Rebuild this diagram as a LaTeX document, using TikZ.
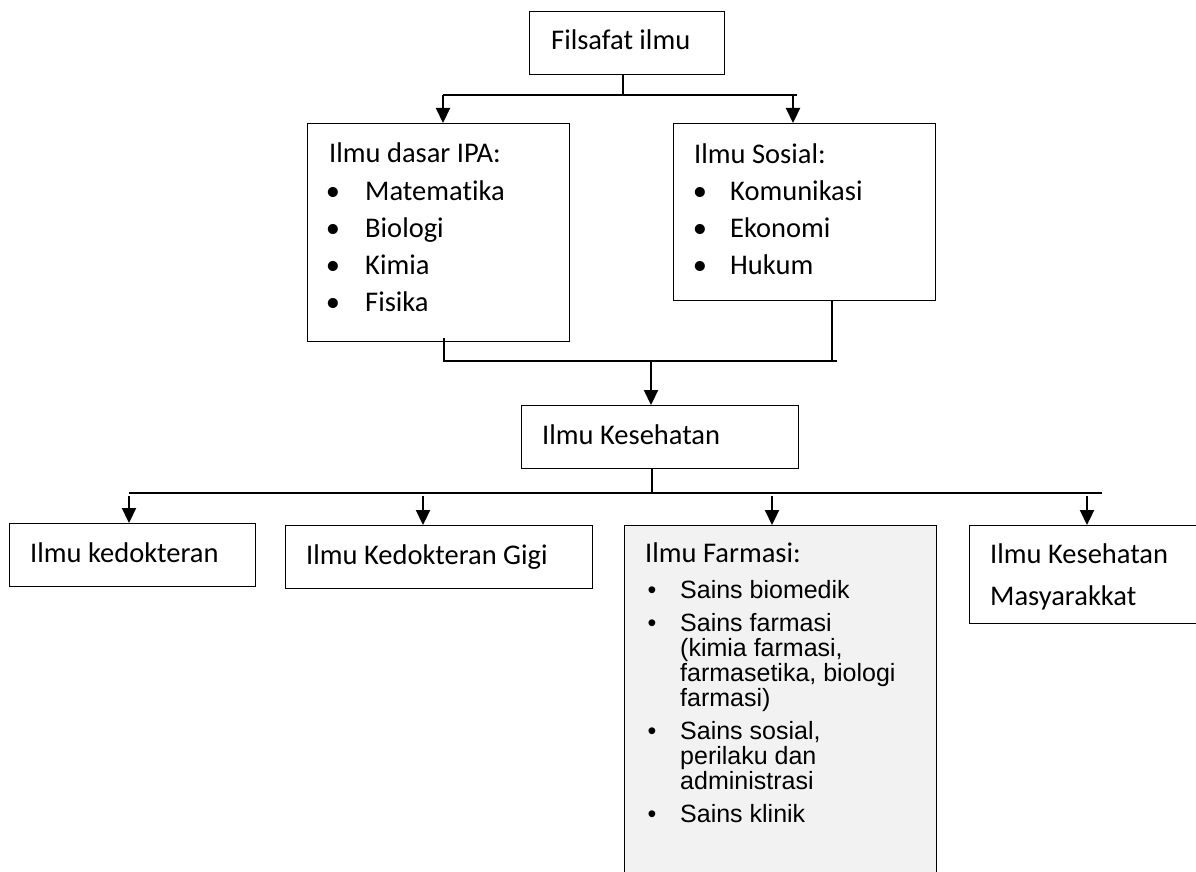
\documentclass[tikz,border=0pt]{standalone}
\usepackage{fontspec}
\setmainfont{Carlito}[Ligatures=NoCommon]
\newfontfamily\arialf{Liberation Sans}
\usetikzlibrary{arrows.meta}
\definecolor{farmfill}{HTML}{F2F2F2}
\begin{document}
\begin{tikzpicture}[x=1pt,y=-1pt,
  box/.style={draw=black, line width=1.3pt, inner sep=0pt, anchor=north west},
  conn/.style={line width=2.2pt},
  arr/.style={line width=2.2pt, -{Triangle[length=15pt,width=14pt]}},
  cal/.style={font=\fontsize{28.5}{34}\selectfont, inner sep=0pt, anchor=base west},
  calb/.style={font=\fontsize{28.5}{34}\selectfont, inner sep=0pt, anchor=base},
  ari/.style={font=\arialf\fontsize{25}{25}\selectfont, inner sep=0pt, anchor=base west},
  arib/.style={font=\arialf\fontsize{25}{25}\selectfont, inner sep=0pt, anchor=base}]
\useasboundingbox (0,0) rectangle (1196,872);

% boxes
\node[box, minimum width=195pt, minimum height=63pt] (fil) at (529,11) {};
\node[box, minimum width=262pt, minimum height=218pt] (ipa) at (307,123) {};
\node[box, minimum width=262pt, minimum height=177pt] (sos) at (673,123) {};
\node[box, minimum width=277pt, minimum height=63pt] (kes) at (521,405) {};
\node[box, minimum width=246pt, minimum height=63pt] (ked) at (9,523) {};
\node[box, minimum width=307pt, minimum height=63pt] (gigi) at (285,525) {};
\node[box, fill=farmfill, minimum width=312pt, minimum height=380pt] (far) at (624,525) {};
\node[box, minimum width=240pt, minimum height=98pt] (mas) at (969,525) {};

% texts
\node[cal] (filT) at (551,50) {Filsafat ilmu};

\node[cal] (ipaT) at (329,162) {Ilmu dasar IPA:};
\foreach \t/\y [count=\i] in {Matematika/200, Biologi/237, Kimia/274, Fisika/311} {
  \node[calb] (ipaB\i) at (333,\y) {\textbullet};
  \node[cal] (ipaI\i) at (365,\y) {\t};
}

\node[cal] (sosT) at (694,163) {Ilmu Sosial:};
\foreach \t/\y [count=\i] in {Komunikasi/200, Ekonomi/237, Hukum/274} {
  \node[calb] (sosB\i) at (700,\y) {\textbullet};
  \node[cal] (sosI\i) at (730,\y) {\t};
}

\node[cal] (kesT) at (542,444) {Ilmu Kesehatan};
\node[cal] (kedT) at (30,562) {Ilmu kedokteran};
\node[cal] (gigiT) at (306,564) {Ilmu Kedokteran Gigi};
\node[cal] (masT1) at (990,563) {Ilmu Kesehatan};
\node[cal] (masT2) at (990,605) {Masyarakkat};

\node[cal] (farT) at (645,562) {Ilmu Farmasi:};
\node[arib] (farB1) at (652,598) {\textbullet};
\node[ari] (farI1) at (680,598) {Sains biomedik};
\node[arib] (farB2) at (652,631) {\textbullet};
\node[ari] (farI2a) at (680,631) {Sains farmasi};
\node[ari] (farI2b) at (680,656) {(kimia farmasi,};
\node[ari] (farI2c) at (680,681) {farmasetika, biologi};
\node[ari] (farI2d) at (680,706) {farmasi)};
\node[arib] (farB3) at (652,739) {\textbullet};
\node[ari] (farI3a) at (680,739) {Sains sosial,};
\node[ari] (farI3b) at (680,764) {perilaku dan};
\node[ari] (farI3c) at (680,789) {administrasi};
\node[arib] (farB4) at (652,822) {\textbullet};
\node[ari] (farI4) at (680,822) {Sains klinik};

% connectors: level 1
\coordinate (j1) at (623,95);
\coordinate (h1l) at (443,95);
\coordinate (h1r) at (797,95);
\coordinate (a1r) at (793,95);
\draw[conn] (j1 |- fil.south) -- (j1);
\draw[conn] (h1l) -- (h1r);
\draw[arr] (h1l) -- (h1l |- ipa.north);
\draw[arr] (a1r) -- (a1r |- sos.north);

% connectors: level 2
\coordinate (h2l) at (444,361);
\coordinate (h2r) at (837,361);
\coordinate (s2) at (832,361);
\coordinate (a2) at (651,361);
\draw[conn] ([yshift=4pt]h2l |- ipa.south) -- (h2l) -- (h2r);
\draw[conn] (s2 |- sos.south) -- (s2);
\draw[arr] (a2) -- (a2 |- kes.north);

% connectors: level 3
\coordinate (j3) at (652,493);
\coordinate (h3l) at (129,493);
\coordinate (h3r) at (1102,493);
\draw[conn] (j3 |- kes.south) -- (j3);
\draw[conn] (h3l) -- (h3r);
\coordinate (a31) at (129,496);
\coordinate (a32) at (423,496);
\coordinate (a33) at (772,496);
\coordinate (a34) at (1087,496);
\draw[arr] (a31) -- (a31 |- ked.north);
\draw[arr] (a32) -- (a32 |- gigi.north);
\draw[arr] (a33) -- (a33 |- far.north);
\draw[arr] (a34) -- (a34 |- mas.north);
\end{tikzpicture}
\end{document}
